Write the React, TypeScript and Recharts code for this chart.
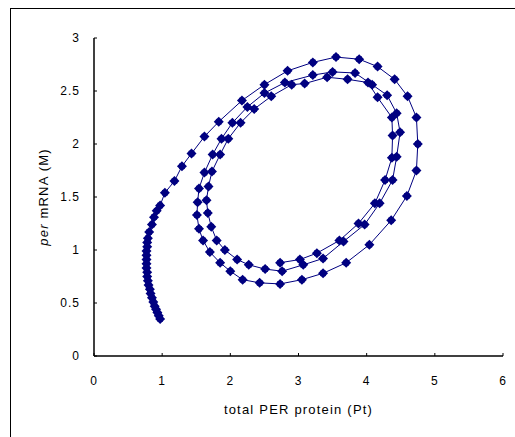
import { ScatterChart, Scatter, XAxis, YAxis, Label } from 'recharts';

// per mRNA (M) vs total PER protein (Pt), pairs of [Pt, M]
const tailPoints: [number, number][] = [
  [0.97, 0.35], [0.95, 0.38], [0.93, 0.41], [0.91, 0.44], [0.89, 0.47], [0.87, 0.51],
  [0.85, 0.55], [0.83, 0.59], [0.82, 0.63], [0.8, 0.67], [0.79, 0.71], [0.78, 0.75],
  [0.78, 0.79], [0.77, 0.83], [0.77, 0.87], [0.77, 0.91], [0.77, 0.95], [0.77, 0.99],
  [0.78, 1.03], [0.78, 1.07], [0.79, 1.11], [0.81, 1.17], [0.85, 1.24], [0.88, 1.31],
  [0.92, 1.37], [0.97, 1.42],
];

const outerLoop: [number, number][] = [
  [1.04, 1.54], [1.18, 1.65], [1.29, 1.79], [1.43, 1.91], [1.62, 2.07], [1.83, 2.21],
  [2.17, 2.41], [2.5, 2.56], [2.84, 2.69], [3.21, 2.77], [3.55, 2.82], [3.89, 2.8],
  [4.16, 2.73], [4.41, 2.61], [4.6, 2.45], [4.73, 2.25], [4.75, 2.0], [4.73, 1.75],
  [4.59, 1.51], [4.36, 1.28], [4.04, 1.05], [3.7, 0.88], [3.36, 0.78], [3.05, 0.72],
  [2.73, 0.68], [2.43, 0.69], [2.18, 0.72], [2.0, 0.8], [1.85, 0.88], [1.7, 0.98],
  [1.6, 1.09],
];

const secondLoop: [number, number][] = [
  [1.54, 1.2], [1.51, 1.33], [1.52, 1.45], [1.54, 1.58], [1.62, 1.73], [1.74, 1.9],
  [1.87, 2.05], [2.03, 2.2], [2.25, 2.35], [2.5, 2.48], [2.8, 2.58], [3.21, 2.65],
  [3.5, 2.68], [3.83, 2.67], [4.08, 2.56], [4.3, 2.46], [4.44, 2.29], [4.49, 2.11],
  [4.44, 1.88], [4.38, 1.66], [4.19, 1.44], [3.97, 1.24], [3.66, 1.08], [3.36, 0.92],
  [3.07, 0.86], [2.76, 0.8], [2.51, 0.82], [2.27, 0.86], [2.1, 0.91], [1.92, 1.0],
  [1.8, 1.09], [1.72, 1.22], [1.67, 1.35], [1.65, 1.47],
];

const thirdLoop: [number, number][] = [
  [1.68, 1.6], [1.73, 1.74], [1.85, 1.9], [1.97, 2.05], [2.15, 2.2], [2.35, 2.33],
  [2.6, 2.45], [2.9, 2.56], [3.09, 2.57], [3.42, 2.63], [3.72, 2.61], [4.02, 2.58],
  [4.16, 2.44], [4.37, 2.25], [4.38, 2.08], [4.37, 1.87], [4.27, 1.66], [4.12, 1.44],
  [3.88, 1.25], [3.6, 1.09], [3.27, 0.97], [3.02, 0.91], [2.73, 0.88],
];

const xTicks = [0, 1, 2, 3, 4, 5, 6];
const yTicks = [0, 0.5, 1, 1.5, 2, 2.5, 3];

const data = [...tailPoints, ...outerLoop, ...secondLoop, ...thirdLoop].map(([x, y]) => ({ x, y }));

const navy = '#000080';
const font = 'Arial, "Liberation Sans", sans-serif';
const tickStyle = { fill: '#000', fontSize: 12, fontFamily: font, letterSpacing: 1 };

// excel-ish diamond marker
const Diamond = (props: any) => {
  const { cx, cy } = props;
  const r = 5;
  const s = 2.8;
  return (
    <g>
      <path d={`M${cx},${cy - r}L${cx + r},${cy}L${cx},${cy + r}L${cx - r},${cy}Z`} fill={navy} />
      <rect x={cx - s} y={cy - s} width={s * 2} height={s * 2} fill={navy} />
    </g>
  );
};

const YTitle = (props: any) => {
  const vb = props.viewBox || {};
  const cx = 43;
  const cy = vb.y + vb.height / 2;
  return (
    <text
      x={cx}
      y={cy}
      transform={`rotate(-90 ${cx} ${cy})`}
      textAnchor="middle"
      dominantBaseline="central"
      fontSize={13}
      fontFamily={font}
      letterSpacing={1.2}
      fill="#000"
    >
      <tspan fontStyle="italic">per</tspan> mRNA (M)
    </text>
  );
};

const XTitle = (props: any) => {
  const vb = props.viewBox || {};
  const cx = vb.x + vb.width / 2;
  return (
    <text
      x={cx}
      y={414}
      textAnchor="middle"
      fontSize={13}
      fontFamily={font}
      letterSpacing={1.2}
      fill="#000"
    >
      total PER protein (Pt)
    </text>
  );
};

export default function App() {
  return (
    <div style={{ position: 'absolute', left: 0, top: 0, width: 515, height: 437, background: '#fff', overflow: 'hidden' }}>
      <div style={{ position: 'absolute', left: 10, top: 8, width: 530, height: 450, border: '1px solid #000' }} />
      <div style={{ position: 'absolute', left: 0, top: 0 }}>
        <ScatterChart width={515} height={437} margin={{ top: 38, right: 12, bottom: 0, left: 0 }}>
          <XAxis
            type="number"
            dataKey="x"
            domain={[0, 6]}
            ticks={xTicks}
            interval={0}
            height={81}
            tickSize={-3}
            tickMargin={23}
            tick={tickStyle}
            axisLine={{ stroke: '#000', strokeWidth: 1.5 }}
            tickLine={{ stroke: '#000' }}
          >
            <Label content={<XTitle />} />
          </XAxis>
          <YAxis
            type="number"
            dataKey="y"
            domain={[0, 3]}
            ticks={yTicks}
            interval={0}
            width={94}
            tickSize={-3}
            tickMargin={17}
            tick={tickStyle}
            axisLine={{ stroke: '#000', strokeWidth: 1.5 }}
            tickLine={{ stroke: '#000' }}
          >
            <Label content={<YTitle />} />
          </YAxis>
          <Scatter
            data={data}
            line={{ stroke: navy, strokeWidth: 1 }}
            lineType="joint"
            shape={<Diamond />}
            isAnimationActive={false}
          />
        </ScatterChart>
      </div>
    </div>
  );
}
